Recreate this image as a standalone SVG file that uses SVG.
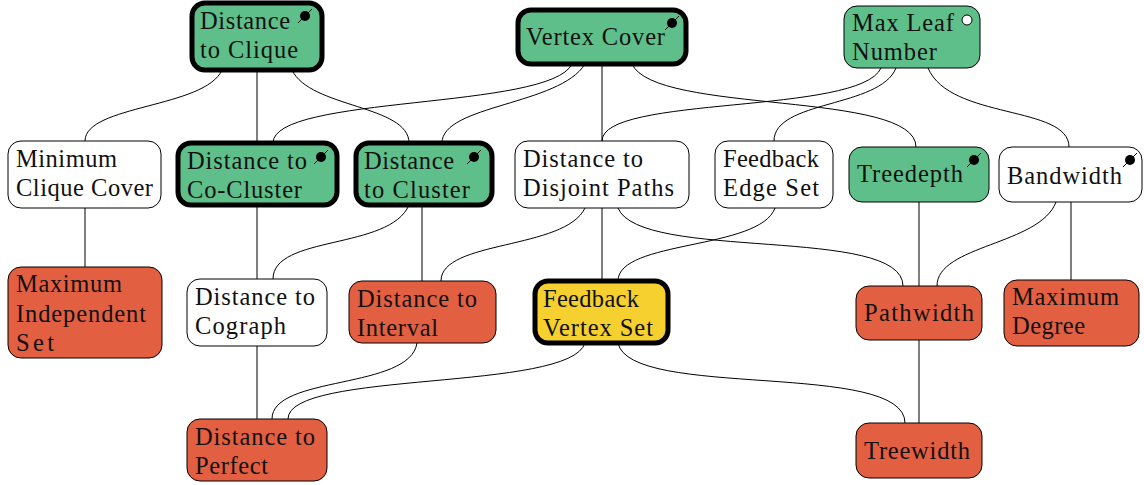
<svg xmlns="http://www.w3.org/2000/svg" width="1144" height="485" viewBox="0 0 1144 485">
<style>
text{font-family:"Liberation Serif","Times New Roman",serif;font-size:24.5px;fill:#111;lengthAdjust:spacingAndGlyphs}
.n{stroke:#000;stroke-width:1}
.t{stroke:#000;stroke-width:5}
.g{fill:#5fbf8a}.r{fill:#e35f41}.y{fill:#f5d02f}.w{fill:#fff}
#edges path{fill:none;stroke:#000;stroke-width:1}
.p{fill:#000;stroke:none}.q{stroke:#000;stroke-width:1;fill:none}
</style>
<g id="edges">
<path d="M222 70C205 108 85 105 85 141"/>
<path d="M257 70V143"/>
<path d="M292 70C310 108 409 105 409 143"/>
<path d="M572 64C550 110 273 95 273 143"/>
<path d="M585 64C560 105 442 105 442 143"/>
<path d="M602 64V141"/>
<path d="M632 64C655 115 916 90 916 147"/>
<path d="M881 68C860 115 602 95 602 141"/>
<path d="M896 68C880 108 774 100 774 141"/>
<path d="M928 68C950 120 1069 105 1069 147"/>
<path d="M85 208V267"/>
<path d="M257 205V279"/>
<path d="M409 205C390 250 273 235 273 279"/>
<path d="M422 205V281"/>
<path d="M585 208C565 250 441 240 441 281"/>
<path d="M602 208V281"/>
<path d="M618 208C640 262 903 225 903 286"/>
<path d="M775 208C760 250 618 240 618 281"/>
<path d="M919 202V286"/>
<path d="M1056 202C1040 245 937 245 937 286"/>
<path d="M1071 202V280"/>
<path d="M257 346V419"/>
<path d="M417 343C410 390 272 375 272 419"/>
<path d="M585 343C570 392 288 370 288 419"/>
<path d="M618 343C630 400 905 360 905 423"/>
<path d="M919 340V423"/>
</g>
<g id="n1"><rect class="t g" x="192" y="3" width="130" height="67" rx="13"/><text x="200" y="29" textLength="90">Distance</text><text x="200" y="58" textLength="98">to Clique</text><circle class="p" cx="305" cy="16" r="5"/><path class="q" d="M298 23L312 9"/></g>
<g id="n2"><rect class="t g" x="518" y="10" width="168" height="54" rx="13"/><text x="526" y="45" textLength="139">Vertex Cover</text><circle class="p" cx="672" cy="23" r="5"/><path class="q" d="M665 30L679 16"/></g>
<g id="n3"><rect class="n g" x="844" y="6" width="136" height="62" rx="13"/><text x="852" y="31" textLength="102">Max Leaf</text><text x="852" y="60" textLength="85">Number</text><circle cx="967" cy="20" r="5" fill="#fff" stroke="#000"/></g>
<g id="n4"><rect class="n w" x="8" y="141" width="153" height="67" rx="13"/><text x="16" y="167" textLength="101">Minimum</text><text x="16" y="196" textLength="137">Clique Cover</text></g>
<g id="n5"><rect class="t g" x="178" y="143" width="159" height="62" rx="13"/><text x="187" y="169" textLength="120">Distance to</text><text x="187" y="198" textLength="115">Co-Cluster</text><circle class="p" cx="321" cy="157" r="5"/><path class="q" d="M314 164L328 150"/></g>
<g id="n6"><rect class="t g" x="356" y="143" width="136" height="62" rx="13"/><text x="364" y="169" textLength="90">Distance</text><text x="364" y="198" textLength="106">to Cluster</text><circle class="p" cx="474" cy="157" r="5"/><path class="q" d="M467 164L481 150"/></g>
<g id="n7"><rect class="n w" x="515" y="141" width="174" height="67" rx="13"/><text x="523" y="167" textLength="120">Distance to</text><text x="523" y="196" textLength="151">Disjoint Paths</text></g>
<g id="n8"><rect class="n w" x="715" y="141" width="118" height="67" rx="13"/><text x="723" y="167" textLength="96">Feedback</text><text x="723" y="196" textLength="96">Edge Set</text></g>
<g id="n9"><rect class="n g" x="849" y="147" width="140" height="55" rx="13"/><text x="857" y="182" textLength="106">Treedepth</text><circle class="p" cx="974" cy="160" r="5"/><path class="q" d="M967 167L981 153"/></g>
<g id="n10"><rect class="n w" x="999" y="147" width="143" height="55" rx="13"/><text x="1007" y="184" textLength="115">Bandwidth</text><circle class="p" cx="1130" cy="160" r="5"/><path class="q" d="M1123 167L1137 153"/></g>
<g id="n11"><rect class="n r" x="8" y="267" width="154" height="91" rx="13"/><text x="16" y="292" textLength="106">Maximum</text><text x="16" y="322" textLength="130">Independent</text><text x="16" y="351" textLength="38">Set</text></g>
<g id="n12"><rect class="n w" x="187" y="279" width="140" height="67" rx="13"/><text x="195" y="305" textLength="120">Distance to</text><text x="195" y="334" textLength="91">Cograph</text></g>
<g id="n13"><rect class="n r" x="349" y="281" width="147" height="62" rx="13"/><text x="357" y="307" textLength="120">Distance to</text><text x="357" y="336" textLength="81">Interval</text></g>
<g id="n14"><rect class="t y" x="535" y="281" width="133" height="62" rx="13"/><text x="543" y="307" textLength="96">Feedback</text><text x="543" y="336" textLength="110">Vertex Set</text></g>
<g id="n15"><rect class="n r" x="856" y="286" width="126" height="54" rx="13"/><text x="864" y="321" textLength="110">Pathwidth</text></g>
<g id="n16"><rect class="n r" x="1004" y="280" width="135" height="66" rx="13"/><text x="1012" y="305" textLength="107">Maximum</text><text x="1012" y="334" textLength="73">Degree</text></g>
<g id="n17"><rect class="n r" x="187" y="419" width="140" height="62" rx="13"/><text x="195" y="445" textLength="120">Distance to</text><text x="195" y="474" textLength="73">Perfect</text></g>
<g id="n18"><rect class="n r" x="856" y="423" width="126" height="55" rx="13"/><text x="864" y="459" textLength="106">Treewidth</text></g>
</svg>
